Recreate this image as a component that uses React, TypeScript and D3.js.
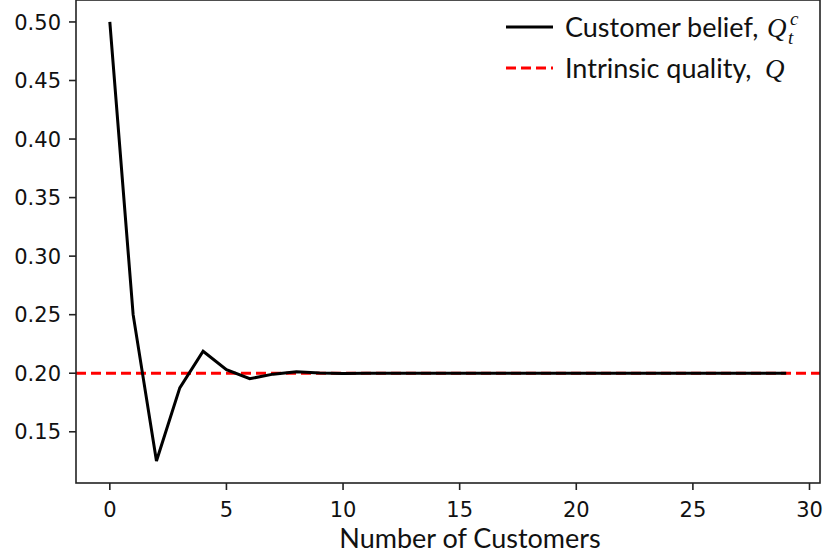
import React from "react";
import * as d3 from "d3";

// Customer belief after each customer (t = 0..29) and the intrinsic quality level
const customers: number[] = d3.range(0, 30);
const belief: number[] = [
  0.5, 0.25, 0.125, 0.1875, 0.21875, 0.203125, 0.1953125, 0.19921875, 0.201171875,
  0.2001953, 0.199707, 0.1999512, 0.2000732, 0.2000122, 0.1999817, 0.2, 0.2, 0.2,
  0.2, 0.2, 0.2, 0.2, 0.2, 0.2, 0.2, 0.2, 0.2, 0.2, 0.2, 0.2,
];
const intrinsicQuality = 0.2;
const xTicks: number[] = [0, 5, 10, 15, 20, 25, 30];
const yTicks: number[] = [0.15, 0.2, 0.25, 0.3, 0.35, 0.4, 0.45, 0.5];

const W = 827;
const H = 556;
const left = 76;
const right = 820;
const top = 0;
const bottom = 483;

const tickFont = "'DejaVu Sans', sans-serif";
const textFont = "Lato, 'Open Sans', sans-serif";
const mathFont = "'Liberation Serif', 'DejaVu Serif', serif";

export default function App() {
  const xMin = d3.min(customers)!;
  const xMax = d3.max(customers)!;
  const xPad = (xMax - xMin) * 0.05;
  const x = d3.scaleLinear().domain([xMin - xPad, xMax + xPad]).range([left, right]);

  const yMin = d3.min(belief)!;
  const yMax = d3.max(belief)!;
  const yPad = (yMax - yMin) * 0.05;
  const y = d3.scaleLinear().domain([yMin - yPad, yMax + yPad]).range([bottom, top]);

  const line = d3
    .line<number>()
    .x((_, i) => x(customers[i]))
    .y((d) => y(d));

  const spine = "#222";

  return (
    <svg
      width={W}
      height={H}
      style={{ position: "absolute", left: 0, top: 0, background: "#fff" }}
    >
      {/* intrinsic quality reference */}
      <line
        x1={left}
        x2={right}
        y1={y(intrinsicQuality)}
        y2={y(intrinsicQuality)}
        stroke="#ff0000"
        strokeWidth={3}
        strokeDasharray="10,5"
      />
      {/* belief trajectory */}
      <path
        d={line(belief) || ""}
        fill="none"
        stroke="#000"
        strokeWidth={3}
        strokeLinejoin="miter"
      />

      {/* spines */}
      <rect
        x={left}
        y={top}
        width={right - left}
        height={bottom - top}
        fill="none"
        stroke={spine}
        strokeWidth={1.6}
      />

      {/* y axis */}
      {yTicks.map((t) => (
        <g key={"y" + t}>
          <line x1={left - 7} x2={left} y1={y(t)} y2={y(t)} stroke={spine} strokeWidth={1.6} />
          <text
            x={left - 15}
            y={y(t)}
            dy="0.36em"
            textAnchor="end"
            fontFamily={tickFont}
            fontSize={21}
            fill="#111"
          >
            {t.toFixed(2)}
          </text>
        </g>
      ))}

      {/* x axis */}
      {xTicks.map((t) => (
        <g key={"x" + t}>
          <line x1={x(t)} x2={x(t)} y1={bottom} y2={bottom + 7} stroke={spine} strokeWidth={1.6} />
          <text
            x={x(t)}
            y={517}
            textAnchor="middle"
            fontFamily={tickFont}
            fontSize={21}
            fill="#111"
          >
            {t}
          </text>
        </g>
      ))}
      <text
        x={(left + right) / 2 + 22}
        y={548}
        textAnchor="middle"
        fontFamily={textFont}
        fontSize={27}
        fill="#111"
      >
        Number of Customers
      </text>

      {/* legend */}
      <g fill="#111">
        <line x1={506} x2={553} y1={27} y2={27} stroke="#000" strokeWidth={3} />
        <text x={565} y={37} fontFamily={textFont} fontSize={27}>
          Customer belief,
        </text>
        <text x={767} y={37} fontFamily={mathFont} fontStyle="italic" fontSize={27}>
          Q
        </text>
        <text x={790} y={25} fontFamily={mathFont} fontStyle="italic" fontSize={19}>
          c
        </text>
        <text x={788} y={44} fontFamily={mathFont} fontStyle="italic" fontSize={19}>
          t
        </text>

        <line
          x1={506}
          x2={553}
          y1={68}
          y2={68}
          stroke="#ff0000"
          strokeWidth={3}
          strokeDasharray="10,5"
        />
        <text x={565} y={78} fontFamily={textFont} fontSize={27}>
          Intrinsic quality,
        </text>
        <text x={765} y={78} fontFamily={mathFont} fontStyle="italic" fontSize={27}>
          Q
        </text>
      </g>
    </svg>
  );
}
